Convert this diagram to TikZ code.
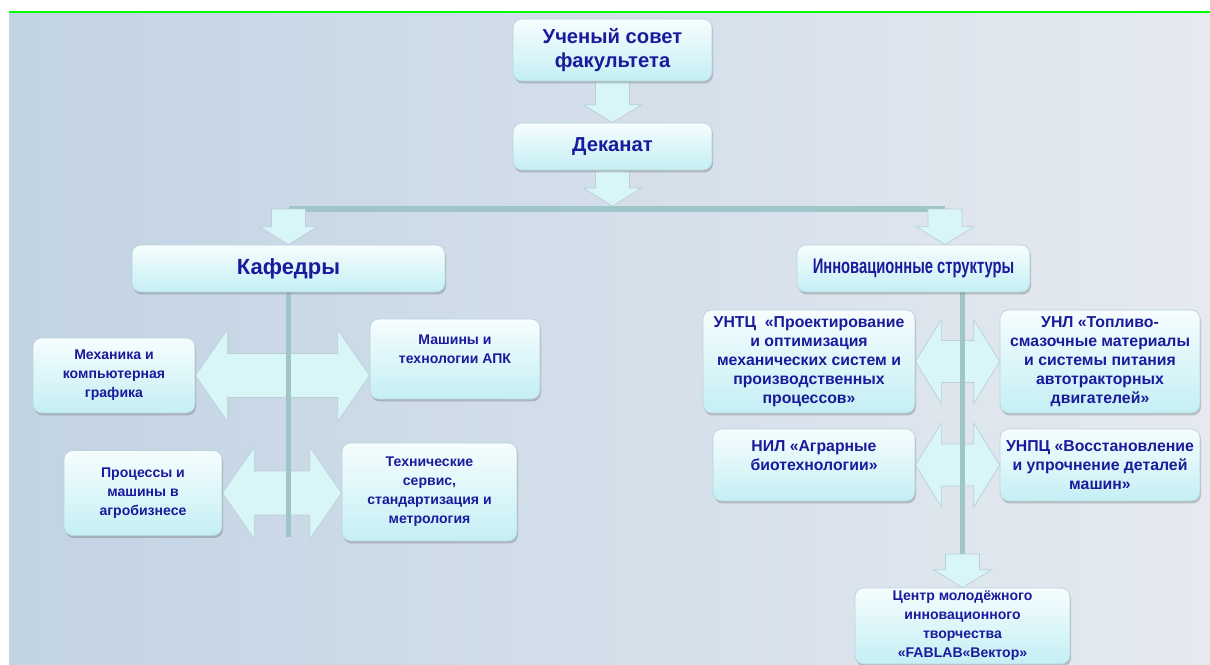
\documentclass[tikz,border=0pt]{standalone}
\usepackage{fontspec}
\setmainfont{Liberation Sans}
\usetikzlibrary{calc,shadows}

\definecolor{navy}{RGB}{26,26,156}
\definecolor{boxtop}{RGB}{246,253,254}
\definecolor{boxbot}{RGB}{196,239,244}
\definecolor{boxline}{RGB}{185,212,220}
\definecolor{arrfill}{RGB}{216,245,248}
\definecolor{arrline}{RGB}{188,207,214}
\definecolor{barcol}{RGB}{160,197,200}
\definecolor{bgA}{RGB}{194,211,228}
\definecolor{bgB}{RGB}{229,234,240}
\definecolor{topline}{RGB}{0,255,0}

\pgfdeclarelayer{bg}
\pgfdeclarelayer{edges}
\pgfsetlayers{bg,edges,main}

\tikzset{
  box/.style={rounded corners=5pt, draw=boxline, line width=0.4pt,
    top color=boxtop, bottom color=boxbot,
    drop shadow={shadow xshift=0.6pt, shadow yshift=-1.4pt, opacity=0.35, fill=black!60},
    text=navy, align=center, inner sep=0pt,
    font=\bfseries\fontsize{8}{10.8}\selectfont},
  bsize/.style 2 args={minimum width=#1*0.02cm, minimum height=#2*0.02cm},
  mid/.style={font=\bfseries\fontsize{9}{10.9}\selectfont},
  big/.style={font=\bfseries\fontsize{11.5}{13.5}\selectfont},
  blk/.style={fill=arrfill, draw=arrline, line width=0.4pt},
  bar/.style={draw=barcol, line width=3pt},
}

% block arrow pointing down: start, tip
\newcommand{\blkdown}[2]{%
  \filldraw[blk] ($(#1)+(-17,0)$) -- ($(#2)+(-17,-18)$) -- ($(#2)+(-29,-18)$) -- (#2)
    -- ($(#2)+(29,-18)$) -- ($(#2)+(17,-18)$) -- ($(#1)+(17,0)$) -- cycle;}
% double block arrow: left tip, right tip, shaft half, head half, head length
\newcommand{\blkdouble}[5]{%
  \filldraw[blk] (#1) -- ($(#1)+(#5,-#4)$) -- ($(#1)+(#5,-#3)$) -- ($(#2)+(-#5,-#3)$)
    -- ($(#2)+(-#5,-#4)$) -- (#2) -- ($(#2)+(-#5,#4)$) -- ($(#2)+(-#5,#3)$)
    -- ($(#1)+(#5,#3)$) -- ($(#1)+(#5,#4)$) -- cycle;}

\begin{document}
\begin{tikzpicture}[x=0.02cm,y=-0.02cm]
  \useasboundingbox (0,0) rectangle (1210,664);
  % фон
  \begin{pgfonlayer}{bg}
    \fill[white] (0,0) rectangle (1210,664);
    \shade[left color=bgA, right color=bgB] (9,12) rectangle (1210,664);
    \draw[topline, line width=1pt] (9,12) -- (1210,12);
  \end{pgfonlayer}

  % блоки
  \node[box, big, bsize={199}{62}] (sovet) at (612.5,50) {Ученый совет\\факультета};
  \node[box, big, bsize={199}{47}] (dekan) at (612.5,146.5) {Деканат};
  \node[box, big, font=\bfseries\fontsize{12.5}{14}\selectfont, bsize={313}{47}] (kaf) at (288.5,268.5) {Кафедры};
  \node[box, big, font=\bfseries\fontsize{12}{14}\selectfont\addfontfeatures{FakeStretch=0.7},
    bsize={233}{47}] (innov) at (913.5,268.5) {Инновационные структуры};

  \node[box, bsize={162}{75}] (mech) at (114,375.5) {Механика и\\компьютерная\\графика};
  \node[box, bsize={170}{80}] (mash) at (455,359) {Машины и\\технологии АПК\\};
  \node[box, bsize={158}{85}] (proc) at (143,493) {Процессы и\\машины в\\агробизнесе};
  \node[box, bsize={175}{98}] (tech) at (429.5,492) {Технические\\сервис,\\стандартизация и\\метрология};

  \node[box, mid, bsize={212}{103}] (untc) at (809,361.5) {УНТЦ \ «Проектирование\\и оптимизация\\механических систем и\\производственных\\процессов»};
  \node[box, mid, bsize={200}{103}] (unl) at (1100,361.5) {УНЛ «Топливо-\\смазочные материалы\\и системы питания\\автотракторных\\двигателей»};
  \node[box, mid, bsize={202}{72}] (nil) at (814,465) {НИЛ «Аграрные\\биотехнологии»\\};
  \node[box, mid, bsize={200}{72}] (unpc) at (1100,465) {УНПЦ «Восстановление\\и упрочнение деталей\\машин»};
  \node[box, bsize={215}{76}] (centr) at (962.5,626) {Центр молодёжного\\инновационного\\творчества\\«FABLAB«Вектор»};

  % связи
  \coordinate (bm) at (612.5,206);
  \coordinate (bl) at (288.5,209);
  \coordinate (br) at (945,209);
  \coordinate (kt) at (bl |- kaf.north);
  \coordinate (it) at (br |- innov.north);
  \coordinate (lend) at (kaf.south |- 0,537);
  \coordinate (rtop) at (centr.north |- innov.south);
  \coordinate (rend) at (centr.north |- 0,554);
  \coordinate (mr) at (mash.west |- mech.east);
  \coordinate (tl) at (tech.west |- proc.east);
  \begin{pgfonlayer}{edges}
    \draw[bar] (bl) -- (br);
    \blkdouble{mech.east}{mr}{22}{46}{32}
    \blkdouble{proc.east}{tl}{22}{46}{32}
    \blkdouble{untc.east}{unl.west}{21}{42}{26}
    \blkdouble{nil.east}{unpc.west}{21}{42}{26}
    \draw[bar] (kaf.south) -- (lend);
    \draw[bar] (rtop) -- (rend);
    \blkdown{sovet.south}{dekan.north}
    \blkdown{dekan.south}{bm}
    \blkdown{bl}{kt}
    \blkdown{br}{it}
    \blkdown{rend}{centr.north}
  \end{pgfonlayer}
\end{tikzpicture}
\end{document}
